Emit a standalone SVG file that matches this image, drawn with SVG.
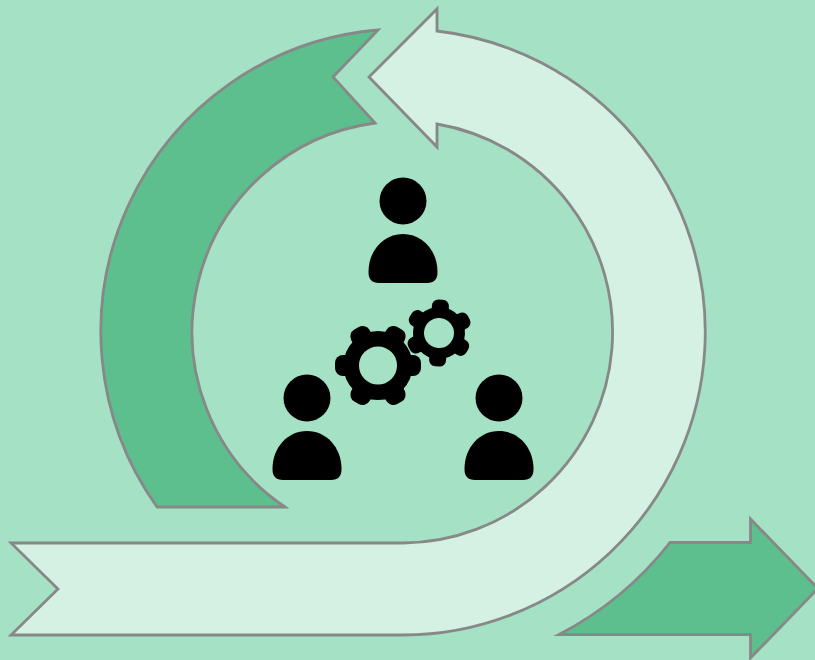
<svg xmlns="http://www.w3.org/2000/svg" width="815" height="660" viewBox="0 0 815 660">
  <style>
    .s{stroke:#888888;stroke-width:2.8;stroke-linejoin:miter;stroke-miterlimit:10}
    .l{fill:#d4f1e3}
    .d{fill:#5dbe8e}
    .ring{stroke:#000;fill:none}
  </style>
  <defs>
    <g id="person">
      <circle cx="0" cy="-33" r="23.500" fill="#000"/>
      <path d="M-24 49H24Q34.500 49 34.500 38C34.500 16 19 0 0 0C-19 0 -34.500 16 -34.500 38Q-34.500 49 -24 49Z" fill="#000"/>
    </g>
    <rect id="tooth-l" x="-10.500" y="-43" width="21" height="20" rx="8"/>
    <rect id="tooth-s" x="-8.500" y="-33.500" width="17" height="16" rx="6.500"/>
  </defs>
  <rect id="background" width="815" height="660" fill="#a5e1c4"/>
  <g id="arrows">
    <path id="arrow-dark-arc" class="s d" d="M378 30A302.500 302.500 0 0 0 157 507H285A211 211 0 0 1 375 123L333 77Z"/>
    <path id="arrow-light-loop" class="s l" d="M11 543H403A211 211 0 0 0 437 124V147L369 77L437 9V31A303 303 0 0 1 403 635H11L58 589Z"/>
    <path id="arrow-dark-out" class="s d" d="M559 634.500A340 340 0 0 0 670 542.500H750.500V519L818 588.500L750.500 658V634.500Z"/>
  </g>
  <g id="person-top"><use href="#person" x="403" y="234"/></g>
  <g id="person-left"><use href="#person" x="307" y="431"/></g>
  <g id="person-right"><use href="#person" x="499" y="431"/></g>
  <g id="gear-small" transform="translate(439 333) rotate(3)">
    <circle r="20.500" class="ring" stroke-width="11"/>
    <use href="#tooth-s"/>
    <use href="#tooth-s" transform="rotate(60)"/>
    <use href="#tooth-s" transform="rotate(120)"/>
    <use href="#tooth-s" transform="rotate(180)"/>
    <use href="#tooth-s" transform="rotate(240)"/>
    <use href="#tooth-s" transform="rotate(300)"/>
  </g>
  <g id="gear-large" transform="translate(378 365.500)">
    <circle r="26.750" class="ring" stroke-width="15.500"/>
    <use href="#tooth-l" transform="rotate(30)"/>
    <use href="#tooth-l" transform="rotate(90)"/>
    <use href="#tooth-l" transform="rotate(150)"/>
    <use href="#tooth-l" transform="rotate(210)"/>
    <use href="#tooth-l" transform="rotate(270)"/>
    <use href="#tooth-l" transform="rotate(330)"/>
  </g>
</svg>
